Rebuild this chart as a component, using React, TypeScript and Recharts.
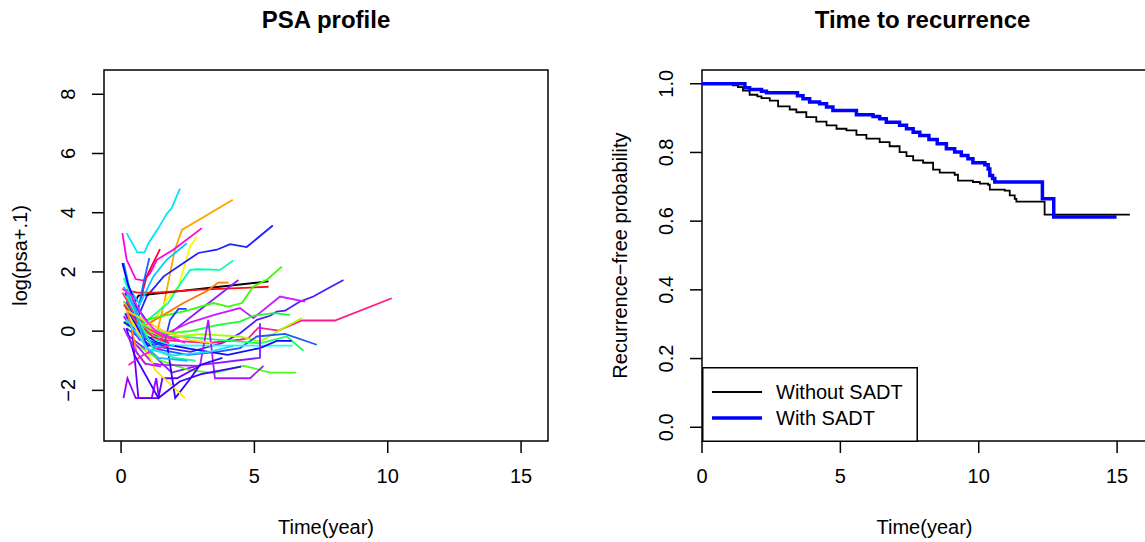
import React from 'react';
import { LineChart, Line, XAxis, YAxis, ReferenceArea, Label } from 'recharts';

const FONT = '"Liberation Sans", Arial, sans-serif';

// axis ticks
const psaXTicks = [0, 5, 10, 15];
const psaYTicks = [-2, 0, 2, 4, 6, 8];
const kmXTicks = [0, 5, 10, 15];
const kmYTicks = [0, 0.2, 0.4, 0.6, 0.8, 1];

// one [time, log(psa+.1)] trajectory per patient
const psaCurves: number[][][] = [
  [[0.21, 3.31], [0.61, 2.66], [0.88, 2.66], [1.03, 2.97], [1.4, 3.48], [1.71, 3.96], [1.9, 4.16], [2.03, 4.44], [2.21, 4.81]],
  [[0.3, 0.9], [0.8, 0.0], [1.3, -0.2], [1.59, 0.83], [1.84, 1.96], [2.02, 2.75], [2.28, 3.42], [4.19, 4.44]],
  [[0.05, 3.31], [0.21, 2.41], [0.55, 1.76], [0.84, 1.71], [1.09, 1.96], [1.34, 2.41], [1.96, 2.75], [3.03, 3.48]],
  [[0.4, 0.2], [1.0, 0.1], [1.4, 0.6], [1.71, 1.06], [2.15, 1.51], [2.59, 2.86], [2.84, 3.18]],
  [[0.15, 1.3], [0.6, 0.4], [0.96, 1.17], [1.6, 1.85], [2.9, 2.64], [3.59, 2.75], [4.09, 2.94], [4.71, 2.84], [5.69, 3.57]],
  [[0.2, 0.9], [0.9, 0.3], [1.77, 0.95], [2.28, 1.68], [2.59, 2.07], [2.84, 2.09], [3.71, 2.07], [4.21, 2.39]],
  [[0.3, 0.6], [0.65, 1.2], [5.53, 1.68]],
  [[0.05, 1.42], [0.6, 1.3], [1.3, 1.3], [3.0, 1.4], [5.53, 1.5]],
  [[0.2, 1.0], [0.6, 0.6], [0.96, 1.85], [1.46, 2.77]],
  [[0.3, 1.2], [0.6, 0.5], [0.84, 1.62], [1.06, 2.47]],
  [[0.2, 1.6], [0.7, 0.9], [1.21, 1.85], [1.71, 2.41], [2.09, 2.69], [2.46, 2.97]],
  [[0.2, 0.4], [0.7, 0.1], [1.5, 0.5], [2.34, 0.95], [3.2, 1.35], [3.65, 1.64], [4.03, 1.64]],
  [[0.1, 0.5], [0.7, -0.3], [1.8, -0.1], [2.96, 0.72], [4.4, 1.73]],
  [[0.1, 0.3], [1.0, 0.4], [2.5, 0.7], [3.46, 0.95], [4.02, 0.83], [4.53, 0.95], [4.96, 1.51], [5.46, 1.73], [6.03, 2.18]],
  [[0.2, 0.5], [1.2, -0.5], [2.6, -0.7], [3.8, -0.4], [4.46, -0.07], [5.09, 0.38], [5.59, 0.52], [5.84, 0.66], [6.15, 0.69], [6.71, 1.0], [7.21, 1.17], [7.77, 1.45], [8.34, 1.73]],
  [[0.3, 0.4], [1.4, -0.2], [2.6, 0.3], [3.5, 0.55], [4.46, 0.78], [4.96, 0.44], [5.96, 1.17], [6.9, 1.0]],
  [[0.1, 1.0], [0.8, 0.2], [1.6, -0.3], [3.3, -0.4], [4.46, -0.29], [4.77, -0.24], [5.15, 0.12], [5.9, 0.02], [6.78, 0.36], [8.02, 0.36], [10.15, 1.11]],
  [[0.2, 0.2], [1.4, -0.1], [2.6, 0.0], [3.6, 0.2], [4.46, 0.32], [4.96, 0.52], [5.71, 0.61], [6.34, 0.55]],
  [[0.3, 0.3], [1.6, -0.2], [3.0, -0.1], [4.46, -0.18], [5.21, -0.35], [5.96, 0.04], [6.78, 0.44]],
  [[0.2, 0.1], [1.3, -0.6], [2.5, -0.8], [3.6, -0.7], [4.46, -0.57], [5.09, -0.18], [6.15, -0.09], [7.34, -0.46]],
  [[0.15, 0.6], [1.2, -0.2], [2.5, -0.2], [3.8, -0.3], [5.21, -0.41], [6.21, -0.18], [6.84, -0.66]],
  [[0.2, 0.7], [1.2, -0.5], [2.2, -0.48], [6.44, -0.49]],
  [[0.1, 0.3], [1.4, -0.4], [2.6, -0.6], [4.0, -0.8], [5.21, -0.57], [5.84, -0.33], [6.4, -0.33]],
  [[0.2, -0.1], [1.2, -0.8], [1.9, -1.4], [3.0, -1.14], [5.21, -0.9], [5.21, 0.27]],
  [[0.3, -0.3], [1.5, -1.0], [2.5, -1.3], [3.46, -1.42], [4.59, -1.17], [4.96, -1.25], [5.59, -1.4], [6.56, -1.4]],
  [[0.5, -0.4], [1.2, -1.1], [1.53, -1.14], [2.96, -1.17], [3.27, 0.38], [3.52, -1.59], [4.84, -1.59], [5.34, -1.17]],
  [[0.09, -2.26], [0.24, -1.59], [0.55, -2.26], [1.15, -2.26], [1.32, -1.59], [1.42, -2.26]],
  [[0.15, 0.6], [0.4, 0.16], [0.65, -2.26], [1.4, -2.26], [1.55, -1.59], [2.1, -1.59], [2.9, -1.2]],
  [[0.2, 0.8], [1.0, -0.5], [1.71, -0.35], [2.03, -2.26], [2.6, -1.6], [2.96, -1.14], [3.8, -0.9]],
  [[0.2, 1.0], [1.0, -0.3], [1.6, -0.5], [1.84, 0.38], [2.15, 0.75], [2.46, 0.75]],
  [[0.3, 0.5], [0.8, -0.3], [1.28, -1.31], [2.4, -2.26]],
  [[0.28, -1.14], [0.84, -0.8], [1.3, -0.6], [1.8, -0.5]],
  [[0.15, 0.9], [0.4, 0.1], [0.59, -0.74], [0.96, -1.14]],
  [[0.2, 0.1], [0.5, -0.8], [1.4, -2.26], [2.2, -1.7], [3.0, -1.45], [4.5, -1.2]],
  [[0.1, 1.8], [0.4, 1.1], [0.8, 0.2], [1.3, -0.3], [2.0, -0.5]],
  [[0.05, 1.3], [0.5, 0.6], [1.0, 0.1], [1.6, -0.2], [2.2, -0.3]],
  [[0.1, 2.3], [0.3, 1.5], [0.6, 0.6], [0.9, -0.2], [1.3, -0.5]],
  [[0.1, 1.0], [0.5, 0.4], [1.1, 0.1], [1.8, -0.1], [2.4, 0.0]],
  [[0.1, 0.9], [0.6, 0.3], [1.2, -0.2], [1.8, -0.4]],
  [[0.2, 1.2], [0.6, 0.5], [1.2, -0.6], [2.0, -0.9], [2.8, -1.0]],
  [[0.1, 1.5], [0.5, 0.8], [0.9, -0.5], [1.4, -0.9], [2.5, -1.0]],
  [[0.2, 0.7], [0.8, 0.4], [1.6, 0.0], [2.6, -0.3], [3.4, -0.4]],
  [[0.1, 0.1], [0.5, -0.6], [0.9, -1.1], [1.5, -1.2]],
  [[0.05, 2.3], [0.25, 1.6], [0.6, 0.8], [1.0, 0.3]],
  [[0.1, 1.4], [0.4, 1.2], [0.8, 0.5], [1.3, 0.0], [2.4, -0.4]],
  [[0.2, 0.4], [1.0, -0.6], [2.0, -0.82], [3.3, -0.7], [4.2, -0.5]],
];

const psaColors = [
  '#00E5FF', '#FFA500', '#FF00E6', '#F0FF00', '#2020FF', '#00FFB3', '#000000', '#FF0D0D',
  '#FF0040', '#1A66FF', '#00CCFF', '#FF7300', '#8C1AFF', '#33FF00', '#4D1AFF', '#CC1AFF',
  '#FF1A8C', '#1AFF33', '#A6FF00', '#1A59FF', '#1AFF59', '#1AFFF2', '#0D0DFF', '#801AFF',
  '#4DFF1A', '#A61AFF', '#9900FF', '#6600FF', '#3300FF', '#1A40FF', '#FFE600', '#FF1AC8',
  '#FF8C1A', '#4000FF', '#00FFD5', '#FF3366', '#1A8CFF', '#66FF1A', '#FF1A4D', '#1AFF99',
  '#1AB3FF', '#FFCC1A', '#B31AFF', '#0000FF', '#FF1AFF', '#1AE0FF',
];

// Kaplan-Meier estimates (step after each time)
const kmWithoutTime = [0, 1.12, 1.3, 1.48, 1.72, 2.0, 2.15, 2.45, 2.75, 3.17, 3.41, 3.77, 4.13, 4.5, 4.86, 5.22, 5.58, 5.94, 6.42, 6.78, 7.14, 7.39, 7.63, 7.99, 8.35, 8.59, 9.13, 9.25, 9.79, 10.04, 10.34, 10.4, 10.94, 11.12, 11.3, 11.36, 12.38, 15.46];
const kmWithoutSurv = [1.0, 0.995, 0.99, 0.98, 0.968, 0.963, 0.958, 0.951, 0.934, 0.925, 0.917, 0.903, 0.89, 0.879, 0.869, 0.864, 0.851, 0.84, 0.83, 0.818, 0.801, 0.789, 0.777, 0.77, 0.75, 0.741, 0.735, 0.718, 0.714, 0.709, 0.706, 0.692, 0.689, 0.675, 0.665, 0.657, 0.619, 0.619];
const kmWithTime = [0, 1.55, 1.72, 2.15, 2.33, 3.45, 3.65, 3.89, 4.25, 4.5, 4.73, 5.58, 6.18, 6.42, 6.66, 7.14, 7.39, 7.63, 7.87, 8.2, 8.5, 8.83, 9.13, 9.37, 9.61, 9.79, 10.22, 10.34, 10.4, 10.5, 10.58, 12.3, 12.71, 14.98];
const kmWithSurv = [1.0, 0.988, 0.983, 0.978, 0.974, 0.965, 0.956, 0.947, 0.942, 0.932, 0.922, 0.91, 0.905, 0.898, 0.888, 0.879, 0.869, 0.859, 0.849, 0.838, 0.825, 0.811, 0.801, 0.791, 0.782, 0.77, 0.764, 0.752, 0.733, 0.724, 0.714, 0.665, 0.612, 0.612];

const psaData = psaCurves.map((c) => c.map(([t, v]) => ({ t, v })));
const kmWithout = kmWithoutTime.map((t, i) => ({ t, s: kmWithoutSurv[i] }));
const kmWith = kmWithTime.map((t, i) => ({ t, s: kmWithSurv[i] }));

const minus = (v: number) => (v < 0 ? '\u2212' + Math.abs(v) : String(v));

function RotTick(props: any) {
  const { x, y, payload, fmt } = props;
  const bx = x - 15;
  return (
    <text x={bx} y={y} transform={`rotate(-90 ${bx} ${y})`} textAnchor="middle"
      fontSize={20} fontFamily={FONT} fill="#000">
      {fmt(payload.value)}
    </text>
  );
}

const tickStyle = { fontSize: 20, fill: '#000', fontFamily: FONT };
const titleStyle: React.CSSProperties = {
  position: 'absolute', top: 6, textAlign: 'center', fontFamily: FONT,
  fontWeight: 'bold', fontSize: 24, lineHeight: '28px', color: '#000',
};

export default function App() {
  return (
    <div style={{ position: 'absolute', left: 0, top: 0, width: 1145, height: 542, overflow: 'hidden', background: '#fff' }}>
      <div style={{ ...titleStyle, left: 104, width: 444 }}>PSA profile</div>
      <div style={{ ...titleStyle, left: 702, width: 441 }}>Time to recurrence</div>

      <div style={{ position: 'absolute', left: 0, top: 0 }}>
        <LineChart width={560} height={542} margin={{ top: 70, right: 12, bottom: 0, left: 0 }}>
          <XAxis type="number" dataKey="t" domain={[-0.64, 16.01]} ticks={psaXTicks}
            allowDataOverflow axisLine={false} tickSize={12} tickMargin={16}
            tickLine={{ stroke: '#000', strokeWidth: 1.5 }} tick={tickStyle} height={101}>
            <Label value="Time(year)" position="insideBottom" offset={8}
              style={{ fontSize: 20, fill: '#000', fontFamily: FONT }} />
          </XAxis>
          <YAxis type="number" domain={[-3.71, 8.82]} ticks={psaYTicks} allowDataOverflow
            axisLine={false} tickSize={12} tickMargin={2} width={104}
            tickLine={{ stroke: '#000', strokeWidth: 1.5 }}
            tick={<RotTick fmt={minus} />}>
            <Label value="log(psa+.1)" angle={-90} position="insideLeft" offset={20}
              style={{ fontSize: 20, fill: '#000', fontFamily: FONT, textAnchor: 'middle' }} />
          </YAxis>
          {psaData.map((d, i) => (
            <Line key={i} data={d} dataKey="v" type="linear" stroke={psaColors[i]}
              strokeWidth={1.8} dot={false} isAnimationActive={false} />
          ))}
          <ReferenceArea x1={-0.64} x2={16.01} y1={-3.71} y2={8.82} fill="none"
            stroke="#000" strokeWidth={1.5} fillOpacity={0} ifOverflow="visible" />
        </LineChart>
      </div>

      <div style={{ position: 'absolute', left: 560, top: 0 }}>
        <LineChart width={590} height={542} margin={{ top: 70, right: 3, bottom: 0, left: 0 }}>
          <XAxis type="number" dataKey="t" domain={[0, 16.08]} ticks={kmXTicks}
            allowDataOverflow axisLine={false} tickSize={12} tickMargin={16}
            tickLine={{ stroke: '#000', strokeWidth: 1.5 }} tick={tickStyle} height={101}>
            <Label value="Time(year)" position="insideBottom" offset={8}
              style={{ fontSize: 20, fill: '#000', fontFamily: FONT }} />
          </XAxis>
          <YAxis type="number" domain={[-0.04, 1.04]} ticks={kmYTicks} allowDataOverflow
            axisLine={false} tickSize={12} tickMargin={2} width={142}
            tickLine={{ stroke: '#000', strokeWidth: 1.5 }}
            tick={<RotTick fmt={(v: number) => v.toFixed(1)} />}>
            <Label value={'Recurrence\u2212free probability'} angle={-90} position="insideLeft" offset={60}
              style={{ fontSize: 20, fill: '#000', fontFamily: FONT, textAnchor: 'middle' }} />
          </YAxis>
          <Line data={kmWithout} dataKey="s" type="stepAfter" stroke="#000" strokeWidth={1.8}
            dot={false} isAnimationActive={false} name="Without SADT" />
          <Line data={kmWith} dataKey="s" type="stepAfter" stroke="#0000FF" strokeWidth={3.5}
            dot={false} isAnimationActive={false} name="With SADT" />
          <ReferenceArea x1={0} x2={16.08} y1={-0.04} y2={1.04} fill="none"
            stroke="#000" strokeWidth={1.5} fillOpacity={0} ifOverflow="visible" />
        </LineChart>
      </div>

      <svg style={{ position: 'absolute', left: 702, top: 367 }} width={216} height={75}>
        <rect x={0.75} y={0.75} width={214.5} height={73.5} fill="#fff" stroke="#000" strokeWidth={1.5} />
        <line x1={10} x2={60} y1={25} y2={25} stroke="#000" strokeWidth={1.8} />
        <line x1={10} x2={60} y1={51} y2={51} stroke="#0000FF" strokeWidth={3.5} />
        <text x={74} y={32} fontSize={20} fontFamily={FONT} fill="#000">Without SADT</text>
        <text x={74} y={58} fontSize={20} fontFamily={FONT} fill="#000">With SADT</text>
      </svg>
    </div>
  );
}
